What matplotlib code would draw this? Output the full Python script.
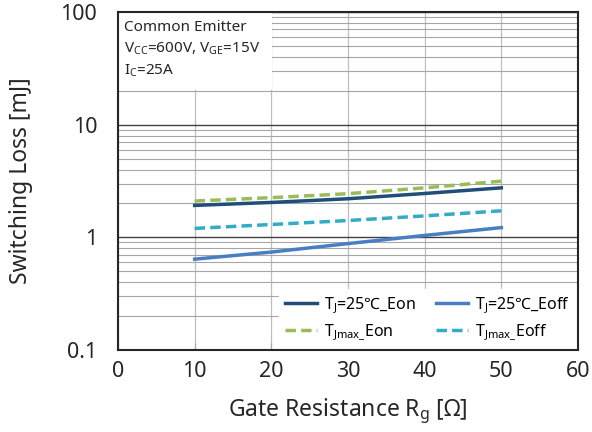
import matplotlib
matplotlib.use("Agg")
import matplotlib.pyplot as plt
from matplotlib.ticker import LogLocator, FixedLocator, NullFormatter
from matplotlib.patches import Rectangle

plt.rcParams['font.family'] = ['Noto Sans', 'DejaVu Sans']
plt.rcParams['mathtext.fontset'] = 'custom'
plt.rcParams['mathtext.rm'] = 'Noto Sans'
plt.rcParams['mathtext.it'] = 'Noto Sans'

rg = [10, 20, 30, 40, 50]
eon_25 = [1.92, 2.04, 2.2, 2.45, 2.75]
eoff_25 = [0.64, 0.74, 0.88, 1.04, 1.22]
eon_tjmax = [2.1, 2.25, 2.44, 2.75, 3.15]
eoff_tjmax = [1.2, 1.3, 1.41, 1.55, 1.72]

labels = ['T$_\\mathregular{J}$=25℃_Eon', 'T$_\\mathregular{J}$=25℃_Eoff',
          'T$_\\mathregular{Jmax\\_}$Eon', 'T$_\\mathregular{Jmax\\_}$Eoff']
xticks = [0, 10, 20, 30, 40, 50, 60]
yticks = [0.1, 1, 10, 100]
ytick_labels = ['0.1', '1', '10', '100']

fig = plt.figure(figsize=(5.92, 4.32), dpi=100)
ax = fig.add_axes([118/592, 1-350/432, (578-118)/592, (350-12)/432])
ax.set_yscale('log')
ax.set_xlim(0, 60)
ax.set_ylim(0.1, 100)

ax.yaxis.set_major_locator(FixedLocator(yticks))
ax.set_yticklabels(ytick_labels)
ax.yaxis.set_minor_locator(LogLocator(base=10, subs=range(2, 10)))
ax.yaxis.set_minor_formatter(NullFormatter())
ax.set_xticks(xticks)

ax.grid(True, which='major', axis='y', color='#404040', lw=1.0)
ax.grid(True, which='minor', axis='y', color='#a6a6a6', lw=0.8)
ax.grid(True, which='major', axis='x', color='#bfbfbf', lw=0.9)
ax.set_axisbelow(True)

ax.tick_params(axis='both', which='both', direction='in', labelsize=15.5, length=0,
               labelcolor='#262626')
ax.tick_params(axis='y', which='major', pad=15)
ax.tick_params(axis='x', which='major', length=5, color='#a6a6a6', pad=8)
for s in ax.spines.values():
    s.set_color('#262626')
    s.set_linewidth(1.5)
    s.set_zorder(10)

l1, = ax.plot(rg, eon_25, color='#1f4e79', lw=2.5, label=labels[0])
l3, = ax.plot(rg, eon_tjmax, color='#9bbb59', lw=2.5, ls=(0, (3, 1.5)), label=labels[2])
l2, = ax.plot(rg, eoff_25, color='#4a7ec4', lw=2.5, label=labels[1])
l4, = ax.plot(rg, eoff_tjmax, color='#31acc6', lw=2.5, ls=(0, (3, 1.5)), label=labels[3])

leg = ax.legend(handles=[l1, l3, l2, l4], ncol=2, loc='lower right', fontsize=11.5,
                frameon=True, fancybox=False, framealpha=1, edgecolor='white',
                borderaxespad=0.1, handlelength=2.0, handletextpad=0.45,
                columnspacing=1.2, labelspacing=0.45)
leg.set_zorder(5)

ax.add_patch(Rectangle((0, 0.769), 0.335, 0.231, transform=ax.transAxes,
                       facecolor='white', edgecolor='none', zorder=3))
ax.text(0.012, 0.975, 'Common Emitter\nV$_\\mathregular{CC}$=600V, V$_\\mathregular{GE}$=15V\nI$_\\mathregular{C}$=25A',
        transform=ax.transAxes, va='top', ha='left', fontsize=11, linespacing=1.45,
        color='#262626', zorder=4)

ax.set_xlabel('Gate Resistance R$_\\mathregular{g}$ [Ω]', fontsize=16.5, labelpad=10,
              color='#262626')
ax.set_ylabel('Switching Loss [mJ]', fontsize=16.5, labelpad=20, color='#262626')

fig.savefig('out.png', dpi=100)
